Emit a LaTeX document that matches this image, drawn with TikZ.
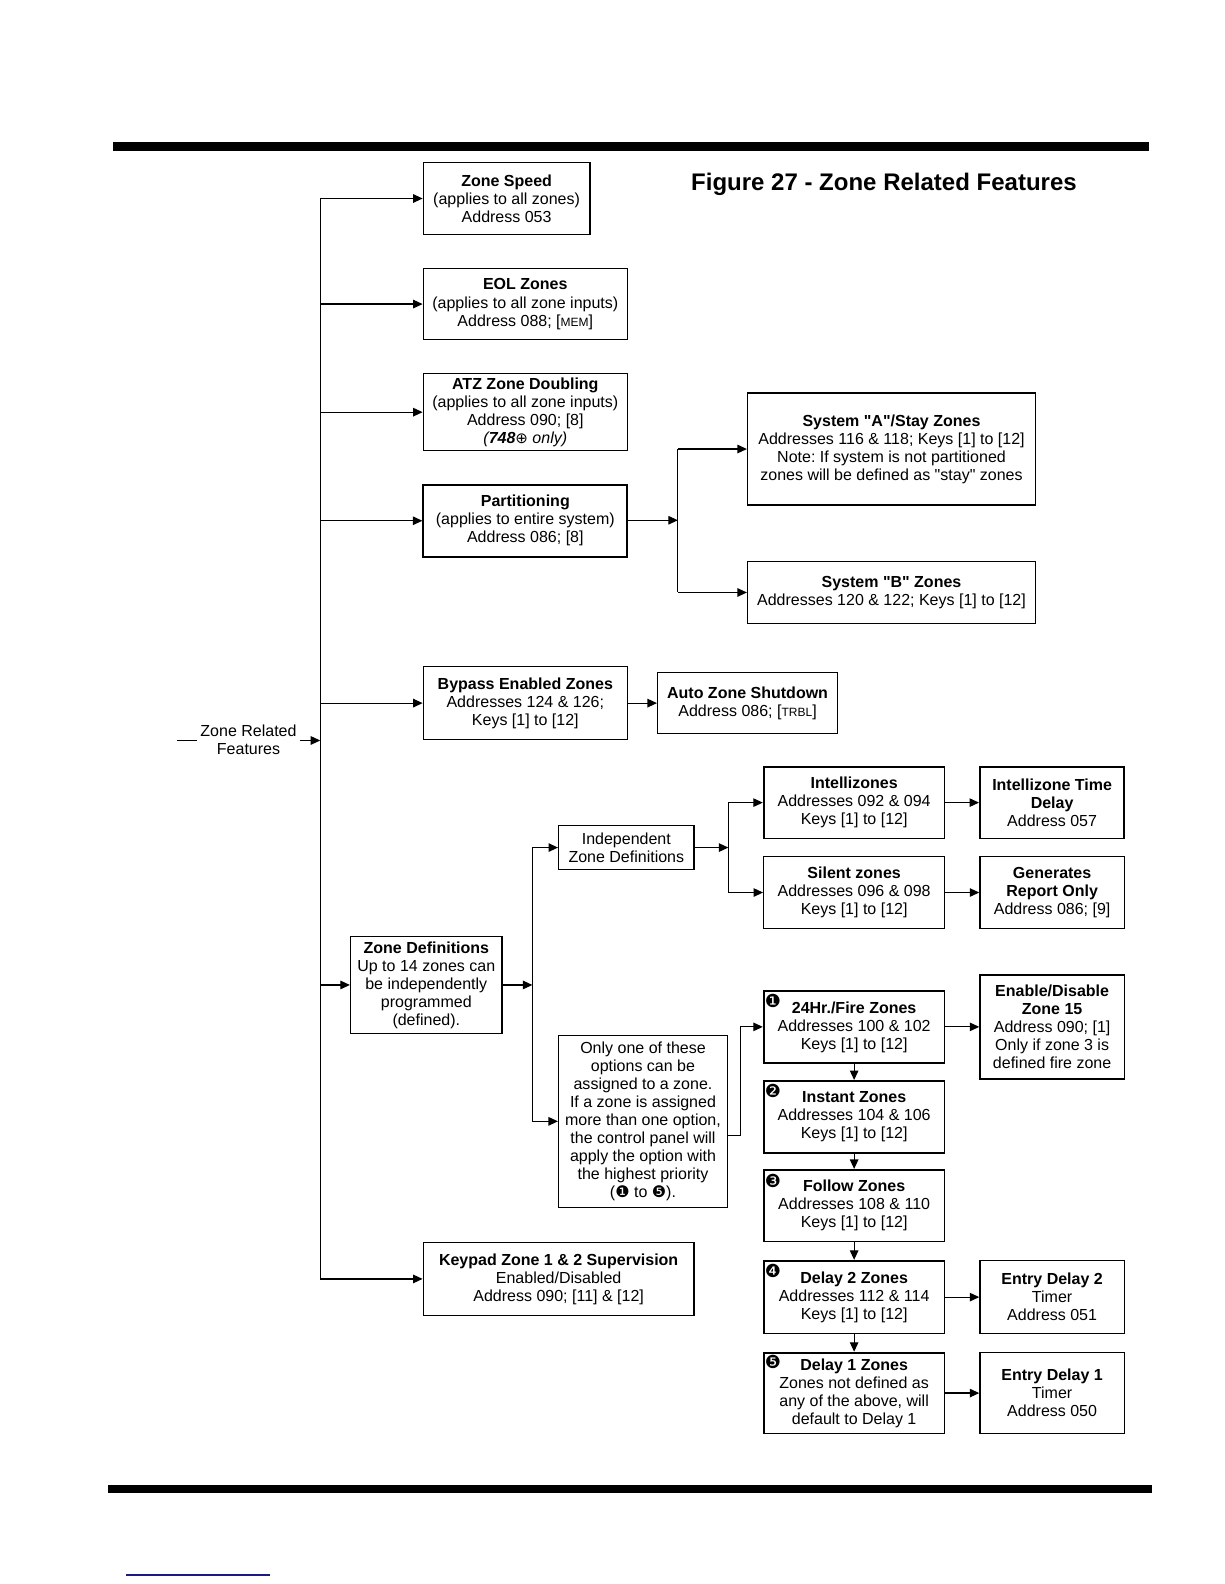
\documentclass[tikz,border=0pt]{standalone}
\usepackage{fontspec}
\setmainfont{Liberation Sans}
\newfontfamily\dejavu{DejaVu Sans}
\newfontfamily\qfont{Liberation Sans}
\usetikzlibrary{arrows.meta}
\definecolor{footblue}{RGB}{25,25,135}
\newcommand\fs{\fontsize{16pt}{18pt}\selectfont}
\newcommand\smc[1]{{\fontsize{12pt}{12pt}\selectfont #1}}
\newcommand\badge[1]{{\dejavu\fontsize{16pt}{16pt}\selectfont #1}}
\newcommand\qq{{\qfont"}}
\frenchspacing
\begin{document}
\begin{tikzpicture}[x=1.0099pt, y=-1.0099pt,
  box/.style={draw, line width=1.3pt, inner sep=0pt, align=center, font=\fs},
  tbox/.style={box, line width=1.8pt},
  wa/.style={minimum width=204pt},
  wr/.style={minimum width=180.8pt},
  wf/.style={minimum width=144.4pt},
  ln/.style={line width=1.2pt},
  arr/.style={ln, -{Triangle[length=9.5pt,width=8.5pt]}},
  badgemark/.style={inner sep=0pt, font=\dejavu\fontsize{18pt}{18pt}\selectfont}]

\useasboundingbox (0,0) rectangle (1212,1568);

% bars
\fill (112,141) rectangle (1137,149);
\fill (107,1470) rectangle (1140,1478);
\draw[line width=1.3pt, footblue] (125,1559) -- (267,1559);

% title
\node[anchor=west, inner sep=0pt, font=\bfseries\fontsize{24pt}{28pt}\selectfont] (title) at (684,182) {Figure 27 - Zone Related Features};

% left column
\node[box, minimum width=166.6pt, minimum height=71.7pt] (zs) at (501.5,196.5) {\textbf{Zone Speed}\\(applies to all zones)\\Address 053};
\node[box, wa, minimum height=70.7pt] (eol) at (520,301) {\textbf{EOL Zones}\\(applies to all zone inputs)\\Address 088; [\smc{MEM}]};
\node[box, wa, minimum height=76.8pt] (atz) at (520,408) {\textbf{ATZ Zone Doubling}\\(applies to all zone inputs)\\Address 090; [8]\\\textit{(\textbf{748}{\dejavu\fontsize{15pt}{15pt}\selectfont ⊕} only)}};
\node[tbox, wa, minimum height=71.7pt] (part) at (520,515.5) {\textbf{Partitioning}\\(applies to entire system)\\Address 086; [8]};
\node[box, minimum width=287.8pt, minimum height=112.1pt] (sysa) at (882.5,444.5) {\textbf{System \qq A\qq/Stay Zones}\\Addresses 116 \& 118; Keys [1] to [12]\\Note: If system is not partitioned\\zones will be defined as \qq stay\qq{} zones};
\node[box, minimum width=287.8pt, minimum height=61.6pt] (sysb) at (882.5,586.5) {\textbf{System \qq B\qq{} Zones}\\Addresses 120 \& 122; Keys [1] to [12]};
\node[box, wa, minimum height=72.7pt] (byp) at (520,696) {\textbf{Bypass Enabled Zones}\\Addresses 124 \& 126;\\Keys [1] to [12]};
\node[box, minimum width=179.8pt, minimum height=60.6pt] (azs) at (740,696) {\textbf{Auto Zone Shutdown}\\Address 086; [\smc{TRBL}]};
\node[box, minimum width=151.5pt, minimum height=96.9pt] (zdef) at (422,975) {\textbf{Zone Definitions}\\Up to 14 zones can\\be independently\\programmed\\(defined).};
\node[box, minimum width=135.3pt, minimum height=44.4pt] (ind) at (620,839) {Independent\\Zone Definitions};
\node[box, minimum width=168.7pt, minimum height=171.7pt] (only) at (636.5,1110) {Only one of these\\options can be\\assigned to a zone.\\If a zone is assigned\\more than one option,\\the control panel will\\apply the option with\\the highest priority\\(\badge{❶} to \badge{❺}).};
\node[box, minimum width=270.7pt, minimum height=72.7pt] (kp) at (553,1266) {\textbf{Keypad Zone 1 \& 2 Supervision}\\Enabled/Disabled\\Address 090; [11] \& [12]};

% right columns
\node[tbox, wr, minimum height=71.7pt] (intz) at (845.5,794.5) {\textbf{Intellizones}\\Addresses 092 \& 094\\Keys [1] to [12]};
\node[tbox, wf, minimum height=71.7pt] (itd) at (1041.5,794.5) {\textbf{Intellizone Time}\\\textbf{Delay}\\Address 057};
\node[box, wr, minimum height=71.7pt] (sil) at (845.5,883.5) {\textbf{Silent zones}\\Addresses 096 \& 098\\Keys [1] to [12]};
\node[box, wf, minimum height=71.7pt] (gen) at (1041.5,883.5) {\textbf{Generates}\\\textbf{Report Only}\\Address 086; [9]};
\node[tbox, wr, minimum height=71.7pt] (fire) at (845.5,1016.5) {\textbf{24Hr./Fire Zones}\\Addresses 100 \& 102\\Keys [1] to [12]};
\node[box, wf, minimum height=104pt] (ena) at (1041.5,1016.5) {\textbf{Enable/Disable}\\\textbf{Zone 15}\\Address 090; [1]\\Only if zone 3 is\\defined fire zone};
\node[tbox, wr, minimum height=71.7pt] (inst) at (845.5,1105.5) {\textbf{Instant Zones}\\Addresses 104 \& 106\\Keys [1] to [12]};
\node[tbox, wr, minimum height=71.7pt] (fol) at (845.5,1193.5) {\textbf{Follow Zones}\\Addresses 108 \& 110\\Keys [1] to [12]};
\node[tbox, wr, minimum height=72.7pt] (dtwo) at (845.5,1284) {\textbf{Delay 2 Zones}\\Addresses 112 \& 114\\Keys [1] to [12]};
\node[box, wf, minimum height=72.7pt] (edtwo) at (1041.5,1284) {\textbf{Entry Delay 2}\\Timer\\Address 051};
\node[tbox, wr, minimum height=80.8pt] (done) at (845.5,1379) {\textbf{Delay 1 Zones}\\Zones not defined as\\any of the above, will\\default to Delay 1};
\node[box, wf, minimum height=80.8pt] (edone) at (1041.5,1379) {\textbf{Entry Delay 1}\\Timer\\Address 050};

% badges
\node[badgemark] (m1) at ([shift={(10,11)}]fire.north west) {❶};
\node[badgemark] (m2) at ([shift={(10,11)}]inst.north west) {❷};
\node[badgemark] (m3) at ([shift={(10,12)}]fol.north west) {❸};
\node[badgemark] (m4) at ([shift={(10,11)}]dtwo.north west) {❹};
\node[badgemark] (m5) at ([shift={(10,10)}]done.north west) {❺};

% entry label
\node[inner sep=3pt, align=center, font=\fs] (zrf) at (246,732) {Zone Related\\Features};
\coordinate (zrfL) at (175,733);
\draw[ln] (zrfL) -- (zrfL -| zrf.west);

% main bus
\coordinate (busT) at (317,197);
\coordinate (busB) at (317,1266);
\draw[ln] (busT) -- (busB);
\draw[arr] (zrf.east |- zrfL) -- (zrfL -| busT);
\foreach \n in {zs,eol,atz,part,byp,zdef,kp}
  \draw[arr] (busT |- \n.west) -- (\n.west);

% partitioning split
\coordinate (pj) at (671,515);
\draw[arr] (part.east |- pj) -- (pj);
\draw[ln] (sysa.west -| pj) -- (sysb.west -| pj);
\draw[arr] (sysa.west -| pj) -- (sysa.west);
\draw[arr] (sysb.west -| pj) -- (sysb.west);

% bypass
\draw[arr] (byp) -- (azs);

% zone definitions split
\coordinate (zj) at (527,975);
\draw[arr] (zdef.east |- zj) -- (zj);
\draw[ln] (ind.west -| zj) -- (only.west -| zj);
\draw[arr] (ind.west -| zj) -- (ind.west);
\draw[arr] (only.west -| zj) -- (only.west);

% independent split
\coordinate (ij) at (721,839);
\draw[arr] (ind.east |- ij) -- (ij);
\draw[ln] (intz.west -| ij) -- (sil.west -| ij);
\draw[arr] (intz.west -| ij) -- (intz.west);
\draw[arr] (sil.west -| ij) -- (sil.west);
\draw[arr] (intz) -- (itd);
\draw[arr] (sil) -- (gen);

% priority chain
\coordinate (oj) at (733,1124);
\draw[arr] (only.east |- oj) -- (oj) |- (fire.west);
\draw[arr] (fire) -- (ena);
\draw[arr] (fire.south) -- (inst.north);
\draw[arr] (inst.south) -- (fol.north);
\draw[arr] (fol.south) -- (dtwo.north);
\draw[arr] (dtwo.south) -- (done.north);
\draw[arr] (dtwo) -- (edtwo);
\draw[arr] (done) -- (edone);
\end{tikzpicture}
\end{document}
